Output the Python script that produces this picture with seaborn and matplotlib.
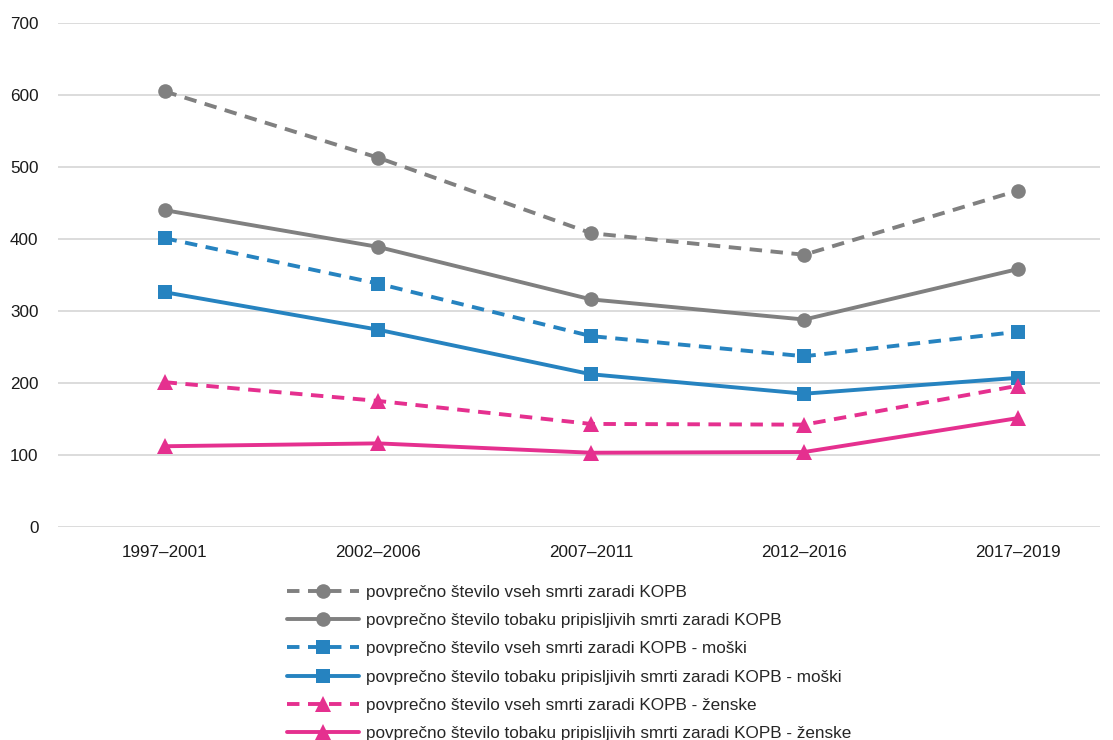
import pandas as pd
import matplotlib
matplotlib.use('Agg')
import matplotlib.pyplot as plt
import seaborn as sns

sns.set_style('white')
plt.rcParams['font.family'] = ['Liberation Sans', 'DejaVu Sans']

obdobja = ['1997–2001', '2002–2006', '2007–2011', '2012–2016', '2017–2019']

vse_skupaj = [605, 513, 408, 378, 467]
tobak_skupaj = [440, 389, 316, 288, 358]
vse_moski = [401, 338, 265, 237, 271]
tobak_moski = [326, 274, 212, 185, 207]
vse_zenske = [201, 175, 143, 142, 196]
tobak_zenske = [112, 116, 103, 104, 151]

serije = [
    ('povprečno število vseh smrti zaradi KOPB', vse_skupaj, '#808080', 'o', True),
    ('povprečno število tobaku pripisljivih smrti zaradi KOPB', tobak_skupaj, '#808080', 'o', False),
    ('povprečno število vseh smrti zaradi KOPB - moški', vse_moski, '#2683C0', 's', True),
    ('povprečno število tobaku pripisljivih smrti zaradi KOPB - moški', tobak_moski, '#2683C0', 's', False),
    ('povprečno število vseh smrti zaradi KOPB - ženske', vse_zenske, '#E5308F', '^', True),
    ('povprečno število tobaku pripisljivih smrti zaradi KOPB - ženske', tobak_zenske, '#E5308F', '^', False),
]

fig = plt.figure(figsize=(11.13, 7.4), dpi=100)
ax = fig.add_axes([0.052, 0.288, 0.936, 0.681])

for ime, vrednosti, barva, marker, crtkano in serije:
    df = pd.DataFrame({'obdobje': obdobja, 'vrednost': vrednosti})
    sns.lineplot(data=df, x='obdobje', y='vrednost', ax=ax, color=barva,
                 marker=marker, markersize=10.5 if marker != '^' else 11.5,
                 markeredgewidth=0, linewidth=2.8, label=ime,
                 linestyle=(0, (3.2, 2.2)) if crtkano else '-')

ax.set_xlim(-0.5, 4.385)
ax.set_ylim(0, 700)
ax.set_yticks(range(0, 701, 100))
ax.set_xlabel('')
ax.set_ylabel('')
ax.grid(axis='y', color='#D9D9D9', linewidth=1.3)
ax.set_axisbelow(True)
sns.despine(ax=ax, left=True, bottom=True)
ax.tick_params(axis='both', length=0, labelsize=12.3, colors='#1a1a1a')
ax.tick_params(axis='y', pad=14)
ax.tick_params(axis='x', pad=13)

ax.legend(loc='upper left', bbox_to_anchor=(0.258, 0.21), bbox_transform=fig.transFigure,
          frameon=False, fontsize=12.3, handlelength=4.2, handletextpad=0.4,
          labelspacing=0.78, borderpad=0, borderaxespad=0)

plt.savefig('out.png', dpi=100)
